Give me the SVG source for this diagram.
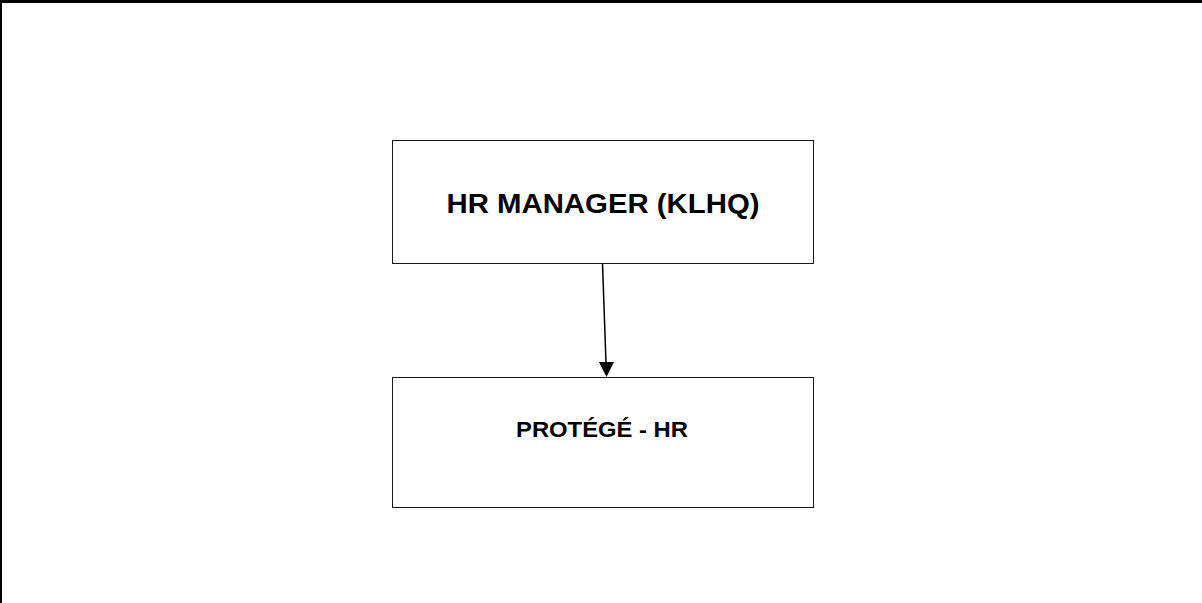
<svg xmlns="http://www.w3.org/2000/svg" width="1202" height="603" viewBox="0 0 1202 603">
<style>
.box{fill:#fff;stroke:#1a1a1a;stroke-width:1}
.lbl{font-family:"Liberation Sans",Arial,sans-serif;font-weight:bold;fill:#000;text-anchor:middle}
.edge{stroke:#000;stroke-width:1.5;fill:none}
</style>
<rect x="0" y="0" width="1202" height="603" fill="#fff"/>
<rect x="0" y="0" width="1202" height="3" fill="#000"/>
<rect x="0" y="0" width="2" height="603" fill="#000"/>
<g id="node-hr-manager">
<rect class="box" x="392.5" y="140.5" width="421" height="123"/>
<text class="lbl" x="603" y="213" font-size="27" textLength="313" lengthAdjust="spacingAndGlyphs">HR MANAGER (KLHQ)</text>
</g>
<g id="node-protege">
<rect class="box" x="392.5" y="377.5" width="421" height="130"/>
<text class="lbl" x="602" y="437" font-size="22" textLength="172" lengthAdjust="spacingAndGlyphs">PROTÉGÉ - HR</text>
</g>
<g id="connectors">
<line class="edge" x1="602.5" y1="264" x2="606" y2="363"/>
<polygon points="599,362 614,362 606.5,377" fill="#000"/>
</g>
</svg>
